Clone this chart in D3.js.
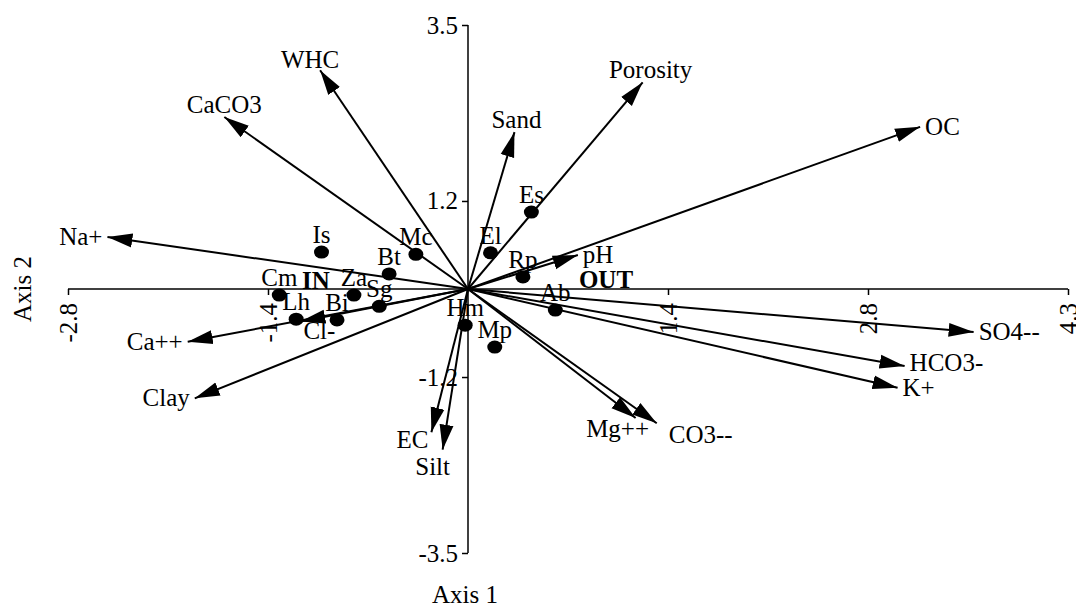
<!DOCTYPE html>
<html>
<head>
<meta charset="utf-8">
<script src="https://cdn.jsdelivr.net/npm/d3@7"></script>
<style>
    body { margin: 0; background: #fff; }
    svg text { font-family: "Liberation Serif", "DejaVu Serif", serif; font-size: 25px; fill: #000; }
</style>
</head>
<body>
<div id="graph"></div>
<script>
/*global d3 */

// environmental variables (arrows), biplot scores on axis 1 / axis 2
var envNames = ["WHC", "CaCO3", "Na+", "Sand", "Porosity", "OC", "pH", "SO4--", "HCO3-", "K+",
                "Mg++", "CO3--", "Ca++", "Clay", "EC", "Silt", "Cl-"];
var envAxis1 = [-1.05, -1.73, -2.56, 0.33, 1.24, 3.21, 0.78, 3.59, 3.10, 3.05,
                1.19, 1.34, -1.99, -1.94, -0.26, -0.18, -1.19];
var envAxis2 = [2.90, 2.28, 0.69, 2.08, 2.74, 2.15, 0.45, -0.57, -1.02, -1.31,
                -1.71, -1.78, -0.70, -1.45, -1.90, -2.13, -0.43];

// species (dots)
var siteNames = ["Is", "Mc", "Bt", "Cm", "Za", "Sg", "Lh", "Bi", "Es", "El", "Rp", "Ab", "Hm", "Mp"];
var siteAxis1 = [-1.04, -0.37, -0.56, -1.34, -0.81, -0.63, -1.22, -0.93, 0.45, 0.16, 0.39, 0.62, -0.02, 0.19];
var siteAxis2 = [0.49, 0.46, 0.20, -0.08, -0.08, -0.23, -0.40, -0.41, 1.02, 0.48, 0.16, -0.28, -0.48, -0.77];

// group labels
var groupNames = ["IN", "OUT"];
var groupAxis1 = [-1.08, 0.98];
var groupAxis2 = [0.0, 0.01];

// axis ticks
var xTickValues = [-2.84, -1.42, 1.42, 2.84, 4.26];
var xTickLabels = ["-2.8", "-1.4", "1.4", "2.8", "4.3"];
var yTickValues = [3.5, 1.167, -1.167, -3.5];
var yTickLabels = ["3.5", "1.2", "-1.2", "-3.5"];

function dessinBiplot() {
    "use strict";
    var width = 1076,
        height = 607,
        police = "'Liberation Serif', 'DejaVu Serif', serif",
        svg = d3.select("#graph")
            .append("svg")
                .attr("width", width)
                .attr("height", height)
                .style("font-family", police),

        x = d3.scaleLinear()
            .domain([-2.84, 4.26])
            .range([68, 1068]),
        y = d3.scaleLinear()
            .domain([-3.5, 3.5])
            .range([553, 25]),

        // small label nudges (px) where the automatic placement differs
        nudge = {
            "WHC": [-10, 2], "Porosity": [8, 0], "Mg++": [-18, -6], "CO3--": [44, -5],
            "EC": [-19, -9], "Silt": [-10, 0], "Cl-": [40, 10], "Sand": [2, 0],
            "HCO3-": [0, -3]
        },
        env = envNames.map(function (n, i) { return {name: n, a1: envAxis1[i], a2: envAxis2[i]}; }),
        sites = siteNames.map(function (n, i) { return {name: n, a1: siteAxis1[i], a2: siteAxis2[i]}; });

    svg.append("defs").append("marker")
        .attr("id", "fleche")
        .attr("markerUnits", "userSpaceOnUse")
        .attr("markerWidth", 26)
        .attr("markerHeight", 16)
        .attr("refX", 25)
        .attr("refY", 8)
        .attr("orient", "auto")
        .append("path")
        .attr("d", "M0,1 L25,8 L0,15 Z")
        .attr("fill", "#000");

    // axes
    var xAxis = svg.append("g")
        .attr("transform", "translate(0," + y(0) + ")")
        .call(d3.axisBottom(x).tickValues(xTickValues).tickSize(6).tickSizeOuter(0)
            .tickFormat(function (d, i) { return xTickLabels[i]; }));
    xAxis.attr("font-family", null).attr("font-size", null);
    xAxis.select(".domain").remove();
    xAxis.append("line")
        .attr("x1", x(-2.84)).attr("x2", x(4.26))
        .attr("stroke", "#000").attr("stroke-width", 1.5);
    xAxis.selectAll(".tick line").attr("stroke", "#000").attr("stroke-width", 1.5);
    xAxis.selectAll(".tick text")
        .attr("y", 0).attr("dy", "0.35em")
        .attr("transform", "translate(0,14) rotate(-90)")
        .style("text-anchor", "end");

    var yAxis = svg.append("g")
        .attr("transform", "translate(" + x(0) + ",0)")
        .call(d3.axisLeft(y).tickValues(yTickValues).tickSize(6).tickSizeOuter(0)
            .tickFormat(function (d, i) { return yTickLabels[i]; }));
    yAxis.attr("font-family", null).attr("font-size", null);
    yAxis.select(".domain").remove();
    yAxis.append("line")
        .attr("y1", y(3.5)).attr("y2", y(-3.5))
        .attr("stroke", "#000").attr("stroke-width", 1.5);
    yAxis.selectAll(".tick line").attr("stroke", "#000").attr("stroke-width", 1.5);
    yAxis.selectAll(".tick text")
        .attr("x", -10);

    svg.append("text")
        .attr("x", x(0) - 3)
        .attr("y", 603)
        .style("text-anchor", "middle")
        .text("Axis 1");
    svg.append("text")
        .attr("transform", "translate(31," + y(0) + ") rotate(-90)")
        .style("text-anchor", "middle")
        .text("Axis 2");

    // arrows
    svg.selectAll(".env")
        .data(env)
        .enter()
        .append("line")
        .attr("class", "env")
        .attr("x1", x(0))
        .attr("y1", y(0))
        .attr("x2", function (d) { return x(d.a1); })
        .attr("y2", function (d) { return y(d.a2); })
        .attr("stroke", "#000")
        .attr("stroke-width", 2)
        .attr("marker-end", "url(#fleche)");

    svg.selectAll(".envlab")
        .data(env)
        .enter()
        .append("text")
        .attr("class", "envlab")
        .each(function (d) {
            var dx = x(d.a1) - x(0),
                dy = y(d.a2) - y(0),
                c = dx / Math.sqrt(dx * dx + dy * dy),
                px = x(d.a1),
                py = y(d.a2),
                anchor = "middle",
                n = nudge[d.name] || [0, 0];
            if (Math.abs(c) > 0.9) {
                anchor = c > 0 ? "start" : "end";
                px += c > 0 ? 5 : -5;
                py += 8;
            } else if (dy < 0) {
                py -= 4;
            } else {
                py += 25;
            }
            d3.select(this)
                .attr("x", px + n[0])
                .attr("y", py + n[1])
                .style("text-anchor", anchor)
                .text(d.name);
        });

    // species
    svg.selectAll(".site")
        .data(sites)
        .enter()
        .append("ellipse")
        .attr("class", "site")
        .attr("cx", function (d) { return x(d.a1); })
        .attr("cy", function (d) { return y(d.a2); })
        .attr("rx", 7.5)
        .attr("ry", 6.5)
        .attr("fill", "#000");

    svg.selectAll(".sitelab")
        .data(sites)
        .enter()
        .append("text")
        .attr("class", "sitelab")
        .attr("x", function (d) { return x(d.a1); })
        .attr("y", function (d) { return y(d.a2) - 9; })
        .style("text-anchor", "middle")
        .text(function (d) { return d.name; });

    svg.selectAll(".group")
        .data(groupNames)
        .enter()
        .append("text")
        .attr("class", "group")
        .attr("x", function (d, i) { return x(groupAxis1[i]); })
        .attr("y", function (d, i) { return y(groupAxis2[i]); })
        .style("text-anchor", "middle")
        .style("font-weight", "bold")
        .text(function (d) { return d; });
}

dessinBiplot();
</script>
</body>
</html>
